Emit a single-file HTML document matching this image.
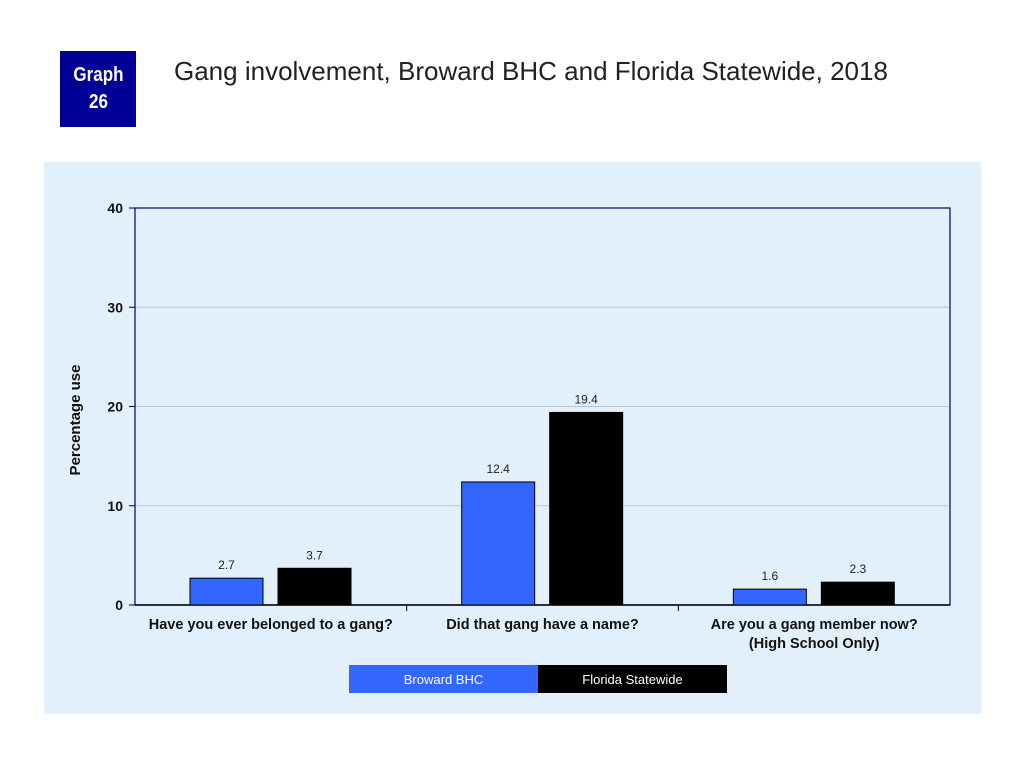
<!DOCTYPE html>
<html><head><meta charset="utf-8"><style>
body{margin:0;width:1024px;height:768px;background:#fff;font-family:"Liberation Sans",sans-serif;position:relative;overflow:hidden}
#badge{position:absolute;left:60px;top:51px;width:76px;height:76px;background:#000099;color:#fff;font-weight:bold;font-size:20px;text-align:center;line-height:27px;padding-top:11px;box-sizing:border-box;transform-origin:center}
#title{position:absolute;left:174px;top:56px;font-size:26px;color:#222;white-space:nowrap}
#panel{position:absolute;left:44px;top:162px;width:937px;height:552px;background:#e2f0fb}
svg{position:absolute;left:0;top:0}
</style></head><body>
<div id="badge"><span style="display:inline-block;transform:scaleX(0.85)">Graph<br>26</span></div>
<div id="title">Gang involvement, Broward BHC and Florida Statewide, 2018</div>
<div id="panel"></div>
<svg id="chart" width="1024" height="768"></svg>
<script>
const categories=[["Have you ever belonged to a gang?"],["Did that gang have a name?"],["Are you a gang member now?","(High School Only)"]];
const browardValues=[2.7,12.4,1.6];
const floridaValues=[3.7,19.4,2.3];
const yTicks=[0,10,20,30,40];
const seriesNames=["Broward BHC","Florida Statewide"];
const NS="http://www.w3.org/2000/svg";
const svg=document.getElementById('chart');
const L=135,R=950,T=208,B=605,yMax=40;
const y=v=>B-(v/yMax)*(B-T);
const gw=(R-L)/categories.length;
function mk(t,a,txt){const e=document.createElementNS(NS,t);for(const k in a)e.setAttribute(k,a[k]);if(txt!=null)e.textContent=txt;svg.appendChild(e);return e;}
yTicks.forEach(v=>{
 if(v>0&&v<yMax){const g=mk('line',{x1:L,x2:R,y1:y(v),y2:y(v),stroke:'#b8c4cc','stroke-width':1});
 
 }
 const tk=mk('line',{x1:L-6,x2:L,y1:y(v),y2:y(v),stroke:'#000033'});
 
 
 const t=mk('text',{x:L-12,y:y(v)+5,'text-anchor':'end','font-size':14,'font-weight':'bold',fill:'#111'},v);
 
 
});
const fr=mk('rect',{x:L,y:T,width:R-L,height:B-T,fill:'none',stroke:'#000066','stroke-width':1.2});


const ax=mk('line',{x1:L,x2:R,y1:B,y2:B,stroke:'#000','stroke-width':1.5});


const yt=mk('text',{x:0,y:0,transform:'translate(80,420) rotate(-90)','text-anchor':'middle','font-size':15,'font-weight':'bold',fill:'#111'},'Percentage use');


categories.forEach((c,i)=>{
 const g0=L+i*gw;
 if(i>0){const s=mk('line',{x1:g0,x2:g0,y1:B,y2:B+6,stroke:'#000'});
 
 }
 [[browardValues[i],'#3366ff',55],[floridaValues[i],'#000',143]].forEach((d,j)=>{
  const b=mk('rect',{x:g0+d[2],y:y(d[0]),width:73,height:B-y(d[0]),fill:d[1],stroke:'#000','stroke-width':1});
  
  
  const l=mk('text',{x:g0+d[2]+36.5,y:y(d[0])-9,'text-anchor':'middle','font-size':12,fill:'#222'},d[0].toFixed(1));
  
  
 });
 c.forEach((line,k)=>{
  const t=mk('text',{x:g0+gw/2,y:B+24+k*19,'text-anchor':'middle','font-size':14.5,'font-weight':'bold',fill:'#111'},line);
  
  
 });
});
[['#3366ff',349],['#000',538]].forEach((d,j)=>{
 const r=mk('rect',{x:d[1],y:665,width:189,height:28,fill:d[0]});
 
 
 const t=mk('text',{x:d[1]+94.5,y:684,'text-anchor':'middle','font-size':13,fill:'#fff'},seriesNames[j]);
 
 
});
</script>
</body></html>
